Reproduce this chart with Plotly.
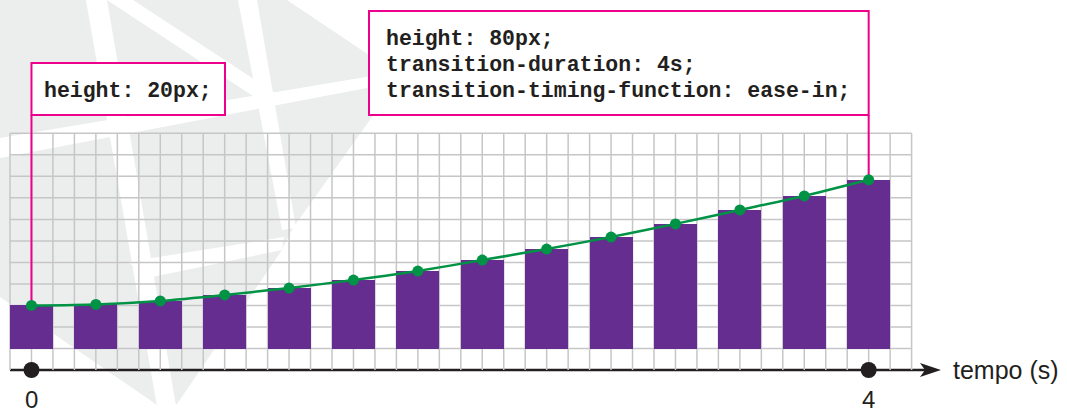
import plotly.graph_objects as go

# ---------------- data ----------------
steps = list(range(14))
heights = [20, 20.5, 22.1, 24.9, 28.1, 31.8, 36.0, 41.1, 46.2, 51.8, 57.9, 64.4, 70.9, 78.4]
time_label_steps = [0, 13]
time_labels = ["0", "4"]
axis_title = "tempo (s)"
start_box_lines = ["height: 20px;"]
end_box_lines = ["height: 80px;", "transition-duration: 4s;", "transition-timing-function: ease-in;"]

# ---------------- geometry ----------------
W, H = 1067, 412
PITCH = 64.4          # px per step
X0PX = 31.47          # pixel of step 0
YPX = 2.152           # px per value unit
Y0PX = 348.5          # pixel of value 0
AXIS_V = -10

x_range = [-X0PX / PITCH, (W - X0PX) / PITCH]
y_range = [(Y0PX - H) / YPX, Y0PX / YPX]


def px(x):
    return x / W


def py(y):
    return 1 - y / H


def vy(ypix):
    return (Y0PX - ypix) / YPX


def path(pts):
    return "M " + " L ".join(f"{px(a):.5f},{py(b):.5f}" for a, b in pts) + " Z"


GRAY = "#ECEEED"
PINK = "#EC008C"
PURPLE = "#652D90"
GREEN = "#009245"
DARK = "#231F20"
GRID = "#C6C6C8"

shapes = []
# background decoration
shapes.append(dict(type="path", xref="paper", yref="paper", layer="below", line_width=0, fillcolor=GRAY,
                   path=path([(0, 0), (287, 0), (372, 57), (372, 117), (293, 228), (280, 253),
                              (177, 404), (160, 407), (0, 297)])))
for poly in [
    [(86, 0), (107, 0), (177, 412), (158, 412)],
    [(107, 0), (133, 0), (275, 93), (262, 102)],
    [(238, 0), (257, 0), (296, 228), (282, 230)],
    [(0, 138), (372, 76), (372, 87), (0, 158)],
    [(127, 262), (284, 237), (282, 250), (152, 277)],
]:
    shapes.append(dict(type="path", xref="paper", yref="paper", layer="below", line_width=0,
                       fillcolor="white", path=path(poly)))

# grid
g_left = -1 / 3
g_right = steps[-1] + 2 / 3
for j in range(43):
    gx = g_left + j / 3
    shapes.append(dict(type="line", xref="x", yref="y", layer="below", x0=gx, x1=gx, y0=AXIS_V, y1=100,
                       line=dict(color=GRID, width=1.5)))
for k in range(11):
    shapes.append(dict(type="line", xref="x", yref="y", layer="below", x0=g_left, x1=g_right,
                       y0=k * 10, y1=k * 10, line=dict(color=GRID, width=1.5)))

# time axis with arrow
shapes.append(dict(type="line", xref="paper", yref="y", layer="below", x0=px(10), x1=px(926),
                   y0=AXIS_V, y1=AXIS_V, line=dict(color=DARK, width=2.5)))
shapes.append(dict(type="path", xref="paper", yref="paper", layer="below", line_width=0, fillcolor=DARK,
                   path=path([(941, 370), (920, 363), (925, 370), (920, 377)])))

# pink callout boxes + leader lines
box_bottom = 115
shapes.append(dict(type="rect", xref="paper", yref="paper", layer="below",
                   x0=px(X0PX), x1=px(225), y0=py(63), y1=py(box_bottom),
                   fillcolor="white", line=dict(color=PINK, width=2)))
end_px = X0PX + PITCH * steps[-1]
shapes.append(dict(type="rect", xref="paper", yref="paper", layer="below",
                   x0=px(369), x1=px(end_px), y0=py(11), y1=py(box_bottom),
                   fillcolor="white", line=dict(color=PINK, width=2)))
shapes.append(dict(type="line", xref="x", yref="y", layer="below", x0=steps[0], x1=steps[0],
                   y0=heights[0], y1=vy(box_bottom), line=dict(color=PINK, width=2)))
shapes.append(dict(type="line", xref="x", yref="y", layer="below", x0=steps[-1], x1=steps[-1],
                   y0=heights[-1], y1=vy(box_bottom), line=dict(color=PINK, width=2)))

fig = go.Figure()
fig.add_trace(go.Bar(x=steps, y=heights, width=2 / 3, marker=dict(color=PURPLE, line_width=0)))
fig.add_trace(go.Scatter(x=steps, y=heights, mode="lines+markers",
                         line=dict(color=GREEN, width=2.5, shape="spline", smoothing=0.6),
                         marker=dict(color=GREEN, size=11)))
fig.add_trace(go.Scatter(x=time_label_steps, y=[AXIS_V] * len(time_label_steps), mode="markers",
                         marker=dict(color=DARK, size=16)))

annotations = []
mono = dict(family="Liberation Mono, Courier New, monospace", size=21.5, color=DARK)
sans = dict(family="Liberation Sans, Arial, Helvetica, sans-serif", size=25, color=DARK)
lab_font = dict(family="Liberation Sans, Arial, Helvetica, sans-serif", size=24, color=DARK)
annotations.append(dict(xref="paper", yref="paper", x=px(42), y=py(91), xanchor="left", yanchor="middle",
                        text="<b>" + start_box_lines[0] + "</b>", showarrow=False, font=mono))
for i, line in enumerate(end_box_lines):
    annotations.append(dict(xref="paper", yref="paper", x=px(384), y=py(39 + 26 * i), xanchor="left",
                            yanchor="middle", text="<b>" + line + "</b>", showarrow=False, font=mono))
for s, lab in zip(time_label_steps, time_labels):
    annotations.append(dict(xref="x", yref="paper", x=s, y=py(399.5), xanchor="center", yanchor="middle",
                            text=lab, showarrow=False, font=lab_font))
annotations.append(dict(xref="paper", yref="paper", x=px(951), y=py(370), xanchor="left", yanchor="middle",
                        text=axis_title, showarrow=False, font=sans))

fig.update_layout(
    width=W, height=H,
    margin=dict(l=0, r=0, t=0, b=0, pad=0),
    paper_bgcolor="white", plot_bgcolor="rgba(0,0,0,0)",
    showlegend=False, hovermode=False, bargap=0,
    xaxis=dict(range=x_range, visible=False, fixedrange=True),
    yaxis=dict(range=y_range, visible=False, fixedrange=True),
    shapes=shapes, annotations=annotations,
)

fig.write_html(
    "out.html",
    config={"displayModeBar": False},
    post_script="document.body.style.margin='0px';document.body.style.overflow='hidden';",
)
